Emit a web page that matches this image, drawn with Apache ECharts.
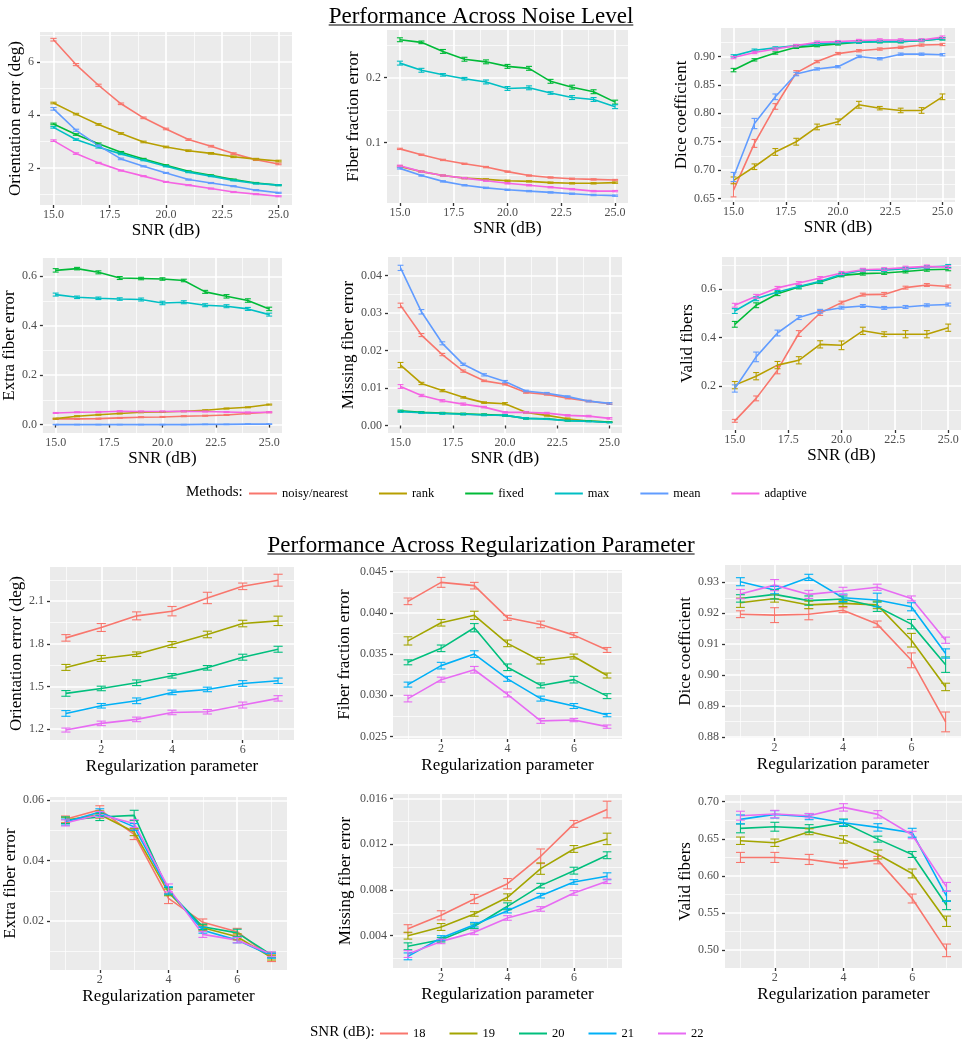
<!DOCTYPE html>
<html><head><meta charset="utf-8">
<script src="https://cdn.jsdelivr.net/npm/echarts@6/dist/echarts.min.js"></script>
<style>html,body{margin:0;padding:0;background:#fff}#c{width:962px;height:1050px}</style>
</head><body><div id="c"></div>
<script>
const FONT = "'Liberation Serif', 'DejaVu Serif', serif";

// ---------- categories ----------
const snrValues = [15,16,17,18,19,20,21,22,23,24,25];
const regValues = [1,2,3,4,5,6,7];
const methods = ['noisy/nearest','rank','fixed','max','mean','adaptive'];
const snrLevels = ['18','19','20','21','22'];
const methodColors = ['#F8766D','#B79F00','#00BA38','#00BFC4','#619CFF','#F564E3'];
const snrColors = ['#F8766D','#A3A500','#00BF7D','#00B0F6','#E76BF3'];

// ---------- Performance across noise level (rows: noisy, rank, fixed, max, mean, adaptive) ----------
const orientNoise = [
  [6.84,5.90,5.12,4.42,3.89,3.47,3.07,2.82,2.54,2.31,2.15],
  [4.45,4.03,3.64,3.30,2.98,2.79,2.65,2.55,2.42,2.33,2.26],
  [3.66,3.26,2.91,2.59,2.34,2.10,1.87,1.72,1.56,1.43,1.35],
  [3.53,3.07,2.78,2.53,2.29,2.06,1.84,1.69,1.53,1.41,1.35],
  [4.23,3.42,2.84,2.34,2.06,1.81,1.56,1.43,1.31,1.16,1.06],
  [3.03,2.54,2.19,1.90,1.69,1.47,1.35,1.22,1.09,1.01,0.93]
];
const orientNoiseErr = [
  [0.05,0.04,0.04,0.03,0.03,0.03,0.03,0.03,0.03,0.03,0.03],
  [0.03,0.03,0.03,0.03,0.03,0.03,0.03,0.03,0.03,0.03,0.03],
  [0.03,0.03,0.03,0.03,0.02,0.02,0.02,0.02,0.02,0.02,0.02],
  [0.03,0.03,0.03,0.03,0.02,0.02,0.02,0.02,0.02,0.02,0.02],
  [0.05,0.04,0.03,0.03,0.02,0.02,0.02,0.02,0.02,0.02,0.02],
  [0.03,0.03,0.02,0.02,0.02,0.02,0.02,0.02,0.02,0.02,0.02]
];
const fracNoise = [
  [0.090,0.081,0.073,0.067,0.062,0.055,0.049,0.046,0.044,0.043,0.042],
  [0.063,0.055,0.049,0.045,0.043,0.041,0.040,0.038,0.037,0.037,0.038],
  [0.258,0.254,0.240,0.228,0.224,0.217,0.214,0.194,0.185,0.178,0.162],
  [0.222,0.211,0.204,0.198,0.193,0.183,0.184,0.176,0.169,0.166,0.155],
  [0.060,0.049,0.040,0.034,0.030,0.027,0.025,0.023,0.021,0.019,0.018],
  [0.064,0.055,0.049,0.045,0.041,0.037,0.034,0.031,0.028,0.025,0.025]
];
const fracNoiseErr = [
  [0.001,0.001,0.001,0.001,0.001,0.001,0.001,0.001,0.001,0.001,0.001],
  [0.001,0.001,0.001,0.001,0.001,0.001,0.001,0.001,0.001,0.001,0.001],
  [0.003,0.002,0.003,0.003,0.003,0.003,0.003,0.003,0.003,0.003,0.003],
  [0.003,0.003,0.002,0.002,0.003,0.003,0.003,0.002,0.003,0.003,0.003],
  [0.001,0.001,0.001,0.001,0.001,0.001,0.001,0.001,0.001,0.001,0.001],
  [0.001,0.001,0.001,0.001,0.001,0.001,0.001,0.001,0.001,0.001,0.001]
];
const diceNoise = [
  [0.665,0.747,0.812,0.871,0.891,0.905,0.910,0.913,0.916,0.920,0.921],
  [0.682,0.706,0.732,0.750,0.776,0.785,0.815,0.809,0.805,0.805,0.829],
  [0.876,0.894,0.906,0.916,0.919,0.922,0.925,0.926,0.926,0.928,0.931],
  [0.901,0.911,0.915,0.919,0.922,0.924,0.925,0.926,0.926,0.928,0.931],
  [0.688,0.782,0.829,0.869,0.878,0.882,0.900,0.896,0.904,0.904,0.903],
  [0.898,0.907,0.913,0.919,0.925,0.926,0.928,0.929,0.929,0.929,0.934]
];
const diceNoiseErr = [
  [0.012,0.007,0.005,0.004,0.002,0.002,0.002,0.002,0.002,0.002,0.002],
  [0.006,0.005,0.006,0.006,0.005,0.005,0.006,0.003,0.004,0.005,0.005],
  [0.003,0.002,0.002,0.002,0.002,0.002,0.002,0.002,0.002,0.002,0.002],
  [0.002,0.002,0.002,0.002,0.002,0.002,0.002,0.002,0.002,0.002,0.002],
  [0.008,0.009,0.005,0.003,0.002,0.002,0.002,0.002,0.002,0.002,0.002],
  [0.002,0.002,0.002,0.002,0.002,0.002,0.002,0.002,0.002,0.002,0.002]
];
const extraNoise = [
  [0.023,0.023,0.024,0.027,0.030,0.031,0.034,0.036,0.039,0.045,0.050],
  [0.024,0.034,0.040,0.045,0.050,0.051,0.054,0.058,0.065,0.070,0.081],
  [0.624,0.631,0.616,0.593,0.591,0.589,0.583,0.537,0.519,0.502,0.468],
  [0.526,0.515,0.511,0.508,0.506,0.492,0.495,0.483,0.479,0.468,0.445],
  [0.000,0.000,0.000,0.000,0.000,0.000,0.000,0.001,0.001,0.002,0.002],
  [0.047,0.050,0.051,0.054,0.053,0.053,0.054,0.053,0.051,0.049,0.050]
];
const extraNoiseErr = [
  [0.002,0.002,0.002,0.002,0.002,0.002,0.002,0.002,0.002,0.002,0.002],
  [0.002,0.002,0.002,0.002,0.002,0.002,0.002,0.002,0.002,0.002,0.002],
  [0.007,0.005,0.006,0.006,0.005,0.005,0.005,0.006,0.007,0.007,0.007],
  [0.006,0.005,0.005,0.005,0.006,0.007,0.006,0.006,0.006,0.006,0.006],
  [0.001,0.001,0.001,0.001,0.001,0.001,0.001,0.001,0.001,0.001,0.001],
  [0.002,0.002,0.002,0.002,0.002,0.002,0.002,0.002,0.002,0.002,0.002]
];
const missingNoise = [
  [0.0320,0.0241,0.0189,0.0145,0.0119,0.0110,0.0088,0.0083,0.0073,0.0065,0.0058],
  [0.0161,0.0112,0.0093,0.0075,0.0061,0.0058,0.0035,0.0027,0.0018,0.0012,0.0009],
  [0.0039,0.0035,0.0033,0.0031,0.0029,0.0027,0.0019,0.0018,0.0013,0.0012,0.0009],
  [0.0037,0.0034,0.0032,0.0030,0.0028,0.0027,0.0019,0.0017,0.0013,0.0011,0.0008],
  [0.0420,0.0303,0.0219,0.0163,0.0135,0.0117,0.0092,0.0086,0.0077,0.0065,0.0059],
  [0.0104,0.0080,0.0066,0.0057,0.0049,0.0035,0.0035,0.0033,0.0027,0.0025,0.0019]
];
const missingNoiseErr = [
  [0.0006,0.0004,0.0003,0.0003,0.0002,0.0002,0.0002,0.0002,0.0002,0.0002,0.0002],
  [0.0007,0.0003,0.0003,0.0002,0.0002,0.0003,0.0002,0.0002,0.0002,0.0001,0.0001],
  [0.0002,0.0002,0.0002,0.0002,0.0002,0.0002,0.0002,0.0001,0.0001,0.0001,0.0001],
  [0.0002,0.0002,0.0002,0.0002,0.0002,0.0002,0.0002,0.0001,0.0001,0.0001,0.0001],
  [0.0007,0.0006,0.0004,0.0003,0.0003,0.0003,0.0002,0.0002,0.0002,0.0002,0.0002],
  [0.0005,0.0003,0.0003,0.0003,0.0002,0.0002,0.0002,0.0002,0.0002,0.0002,0.0002]
];
const validNoise = [
  [0.055,0.148,0.265,0.417,0.502,0.545,0.578,0.579,0.607,0.618,0.612],
  [0.203,0.240,0.286,0.306,0.372,0.368,0.428,0.414,0.414,0.414,0.441],
  [0.455,0.534,0.582,0.610,0.630,0.658,0.665,0.668,0.674,0.681,0.683],
  [0.510,0.561,0.589,0.612,0.633,0.662,0.679,0.679,0.686,0.692,0.697],
  [0.189,0.320,0.419,0.483,0.509,0.524,0.531,0.523,0.527,0.534,0.537],
  [0.534,0.571,0.606,0.626,0.647,0.668,0.681,0.684,0.690,0.695,0.692]
];
const validNoiseErr = [
  [0.006,0.010,0.015,0.012,0.010,0.006,0.006,0.008,0.006,0.006,0.006],
  [0.015,0.015,0.015,0.015,0.015,0.018,0.015,0.010,0.015,0.015,0.015],
  [0.012,0.010,0.008,0.008,0.006,0.006,0.006,0.006,0.006,0.006,0.006],
  [0.010,0.008,0.006,0.006,0.006,0.006,0.006,0.006,0.006,0.006,0.006],
  [0.015,0.020,0.012,0.008,0.008,0.006,0.006,0.006,0.006,0.006,0.006],
  [0.008,0.008,0.006,0.006,0.006,0.006,0.006,0.006,0.006,0.006,0.006]
];

// ---------- Performance across regularization parameter (rows: SNR 18..22) ----------
const orientReg = [
  [1.842,1.915,1.997,2.030,2.123,2.205,2.248],
  [1.634,1.697,1.727,1.795,1.866,1.943,1.962],
  [1.451,1.486,1.526,1.575,1.631,1.706,1.762],
  [1.310,1.364,1.399,1.458,1.479,1.521,1.540],
  [1.193,1.240,1.268,1.317,1.322,1.369,1.416]
];
const orientRegErr = [
  [0.023,0.028,0.028,0.033,0.040,0.023,0.042],
  [0.021,0.021,0.016,0.021,0.023,0.023,0.033],
  [0.020,0.016,0.020,0.016,0.016,0.021,0.021],
  [0.020,0.016,0.020,0.016,0.016,0.020,0.019],
  [0.014,0.016,0.016,0.016,0.016,0.021,0.019]
];
const fracReg = [
  [0.0414,0.0437,0.0433,0.0394,0.0386,0.0373,0.0355],
  [0.0366,0.0388,0.0397,0.0363,0.0342,0.0347,0.0324],
  [0.0340,0.0357,0.0382,0.0334,0.0312,0.0319,0.0299],
  [0.0313,0.0336,0.0350,0.0320,0.0296,0.0287,0.0276],
  [0.0296,0.0319,0.0331,0.0301,0.0269,0.0270,0.0262]
];
const fracRegErr = [
  [0.0004,0.0006,0.0004,0.0003,0.0004,0.0003,0.0003],
  [0.0005,0.0004,0.0005,0.0004,0.0004,0.0003,0.0003],
  [0.0003,0.0004,0.0005,0.0004,0.0003,0.0004,0.0003],
  [0.0003,0.0004,0.0004,0.0003,0.0003,0.0003,0.0002],
  [0.0004,0.0003,0.0004,0.0003,0.0003,0.0002,0.0002]
];
const diceReg = [
  [0.9197,0.9194,0.9197,0.9210,0.9165,0.9048,0.8849],
  [0.9234,0.9248,0.9227,0.9232,0.9227,0.9113,0.8962],
  [0.9248,0.9261,0.9241,0.9246,0.9221,0.9165,0.9034],
  [0.9302,0.9275,0.9316,0.9250,0.9243,0.9221,0.9070],
  [0.9262,0.9291,0.9261,0.9272,0.9284,0.9248,0.9113]
];
const diceRegErr = [
  [0.0011,0.0024,0.0018,0.0008,0.0010,0.0024,0.0032],
  [0.0015,0.0012,0.0012,0.0010,0.0012,0.0022,0.0012],
  [0.0012,0.0015,0.0015,0.0010,0.0015,0.0015,0.0025],
  [0.0013,0.0012,0.0010,0.0012,0.0022,0.0013,0.0015],
  [0.0015,0.0018,0.0013,0.0012,0.0010,0.0008,0.0010]
];
const extraReg = [
  [0.0537,0.0569,0.0487,0.0275,0.0196,0.0165,0.0077],
  [0.0534,0.0553,0.0495,0.0295,0.0178,0.0148,0.0079],
  [0.0534,0.0545,0.0550,0.0299,0.0181,0.0161,0.0088],
  [0.0528,0.0561,0.0512,0.0302,0.0170,0.0137,0.0085],
  [0.0525,0.0553,0.0523,0.0310,0.0156,0.0137,0.0090]
];
const extraRegErr = [
  [0.0011,0.0013,0.0017,0.0017,0.0011,0.0011,0.0011],
  [0.0010,0.0012,0.0012,0.0011,0.0010,0.0010,0.0008],
  [0.0011,0.0012,0.0017,0.0012,0.0009,0.0012,0.0009],
  [0.0010,0.0011,0.0011,0.0012,0.0010,0.0009,0.0008],
  [0.0010,0.0010,0.0013,0.0013,0.0010,0.0009,0.0008]
];
const missingReg = [
  [0.00461,0.00578,0.00721,0.00855,0.01095,0.01378,0.01504],
  [0.00400,0.00476,0.00590,0.00736,0.00987,0.01159,0.01247],
  [0.00307,0.00365,0.00482,0.00657,0.00838,0.00969,0.01104],
  [0.00219,0.00380,0.00496,0.00619,0.00750,0.00870,0.00920],
  [0.00239,0.00350,0.00429,0.00555,0.00634,0.00774,0.00876]
];
const missingRegErr = [
  [0.00035,0.00040,0.00040,0.00045,0.00064,0.00030,0.00073],
  [0.00030,0.00030,0.00020,0.00030,0.00050,0.00030,0.00050],
  [0.00030,0.00020,0.00020,0.00030,0.00020,0.00030,0.00030],
  [0.00030,0.00020,0.00020,0.00020,0.00020,0.00020,0.00030],
  [0.00030,0.00020,0.00020,0.00020,0.00020,0.00020,0.00020]
];
const validReg = [
  [0.6248,0.6248,0.6221,0.6158,0.6212,0.5694,0.4995],
  [0.6473,0.6446,0.6595,0.6491,0.6288,0.6032,0.5387],
  [0.6640,0.6662,0.6640,0.6716,0.6495,0.6288,0.5604],
  [0.6761,0.6829,0.6797,0.6716,0.6653,0.6581,0.5725],
  [0.6811,0.6833,0.6811,0.6923,0.6829,0.6550,0.5851]
];
const validRegErr = [
  [0.0068,0.0068,0.0068,0.0050,0.0050,0.0060,0.0085],
  [0.0050,0.0050,0.0040,0.0050,0.0060,0.0060,0.0070],
  [0.0060,0.0060,0.0050,0.0050,0.0040,0.0040,0.0060],
  [0.0060,0.0050,0.0040,0.0040,0.0050,0.0060,0.0070],
  [0.0060,0.0050,0.0030,0.0050,0.0050,0.0050,0.0060]
];

// ---------- tick values ----------
const snrTicks = [15,17.5,20,22.5,25], snrMinor = [16.25,18.75,21.25,23.75];
const regTicks = [2,4,6], regMinor = [1,3,5,7];

// ---------- panel layout ----------
const panels = [
  {kind:'noise', yName:'Orientation error (deg)', vals:orientNoise, errs:orientNoiseErr, yMin:0.6, yMax:7.13, yMajor:[2,4,6], yMinor:[1,3,5,7], dec:0, box:[40,32,252,173], yGap:14},
  {kind:'noise', yName:'Fiber fraction error', vals:fracNoise, errs:fracNoiseErr, yMin:0.0067, yMax:0.273, yMajor:[0.1,0.2], yMinor:[0.05,0.15,0.25], dec:1, box:[387,30,241,173], yGap:24},
  {kind:'noise', yName:'Dice coefficient', vals:diceNoise, errs:diceNoiseErr, yMin:0.644, yMax:0.95, yMajor:[0.65,0.7,0.75,0.8,0.85,0.9], yMinor:[0.675,0.725,0.775,0.825,0.875,0.925], dec:2, box:[721,28,234,174], yGap:31},
  {kind:'noise', yName:'Extra fiber error', vals:extraNoise, errs:extraNoiseErr, yMin:-0.034, yMax:0.674, yMajor:[0,0.2,0.4,0.6], yMinor:[0.1,0.3,0.5], dec:1, box:[40,258,242,175], yGap:23},
  {kind:'noise', yName:'Missing fiber error', vals:missingNoise, errs:missingNoiseErr, yMin:-0.002, yMax:0.0449, yMajor:[0,0.01,0.02,0.03,0.04], yMinor:[0.005,0.015,0.025,0.035], dec:2, box:[388,257,234,176], yGap:31},
  {kind:'noise', yName:'Valid fibers', vals:validNoise, errs:validNoiseErr, yMin:0.017, yMax:0.734, yMajor:[0.2,0.4,0.6], yMinor:[0.1,0.3,0.5,0.7], dec:1, box:[722,257,239,173], yGap:26},
  {kind:'reg', yName:'Orientation error (deg)', vals:orientReg, errs:orientRegErr, yMin:1.123, yMax:2.341, yMajor:[1.2,1.5,1.8,2.1], yMinor:[1.35,1.65,1.95,2.25], dec:1, box:[50,567,244,173], yGap:23},
  {kind:'reg', yName:'Fiber fraction error', vals:fracReg, errs:fracRegErr, yMin:0.0247, yMax:0.0452, yMajor:[0.025,0.03,0.035,0.04,0.045], yMinor:[0.0275,0.0325,0.0375,0.0425], dec:3, box:[393,570,229,169], yGap:40},
  {kind:'reg', yName:'Dice coefficient', vals:diceReg, errs:diceRegErr, yMin:0.8797, yMax:0.9356, yMajor:[0.88,0.89,0.9,0.91,0.92,0.93], yMinor:[0.885,0.895,0.905,0.915,0.925], dec:2, box:[725,565,236,173], yGap:30},
  {kind:'reg', yName:'Extra fiber error', vals:extraReg, errs:extraRegErr, yMin:0.0038, yMax:0.0611, yMajor:[0.02,0.04,0.06], yMinor:[0.01,0.03,0.05], dec:2, box:[50,797,237,173], yGap:31},
  {kind:'reg', yName:'Missing fiber error', vals:missingReg, errs:missingRegErr, yMin:0.00117, yMax:0.0164, yMajor:[0.004,0.008,0.012,0.016], yMinor:[0.002,0.006,0.01,0.014], dec:3, box:[393,794,229,174], yGap:39},
  {kind:'reg', yName:'Valid fibers', vals:validReg, errs:validRegErr, yMin:0.4757, yMax:0.709, yMajor:[0.5,0.55,0.6,0.65,0.7], yMinor:[0.525,0.575,0.625,0.675], dec:2, box:[725,795,237,173], yGap:29}
];

const TICK_COLOR = '#4D4D4D';
function mainAxis(gi, min, max, major, fmt, name, gap, isX) {
  return {
    type:'value', gridIndex:gi, min:min, max:max, scale:true,
    axisLine:{show:false},
    axisTick:{show:true, length:3, lineStyle:{color:'#333', width:1.3}, customValues:major},
    axisLabel:{show:true, customValues:major, formatter:fmt, color:TICK_COLOR, fontSize:12, fontFamily:FONT, margin:isX?4:6},
    splitLine:{show:true, lineStyle:{color:'#FFFFFF', width:1.7}},
    minorTick:{show:false}, minorSplitLine:{show:false},
    name:name, nameLocation:'middle', nameGap:gap,
    nameTextStyle:{fontFamily:FONT, fontSize:17, color:'#000'},
    z:1
  };
}
function minorAxis(gi, min, max, minor) {
  return {
    type:'value', gridIndex:gi, min:min, max:max, scale:true,
    axisLine:{show:false},
    axisTick:{show:false, customValues:minor},
    axisLabel:{show:false, customValues:minor},
    splitLine:{show:true, lineStyle:{color:'#FFFFFF', width:0.7}},
    z:0
  };
}

function makeErrRender(capHalf) {
  return function(params, api) {
    const x = api.value(0), lo = api.value(1), hi = api.value(2);
    const pLo = api.coord([x, lo]), pHi = api.coord([x, hi]);
    const l1 = api.coord([x - capHalf, lo]), r1 = api.coord([x + capHalf, lo]);
    const l2 = api.coord([x - capHalf, hi]), r2 = api.coord([x + capHalf, hi]);
    const st = {stroke: api.visual('color'), lineWidth: 1.1};
    return {type:'group', children:[
      {type:'line', shape:{x1:pLo[0], y1:pLo[1], x2:pHi[0], y2:pHi[1]}, style:st},
      {type:'line', shape:{x1:l1[0], y1:l1[1], x2:r1[0], y2:r1[1]}, style:st},
      {type:'line', shape:{x1:l2[0], y1:l2[1], x2:r2[0], y2:r2[1]}, style:st}
    ]};
  };
}

const option = {
  animation:false, backgroundColor:'#FFFFFF',
  grid:[], xAxis:[], yAxis:[], series:[], title:[], legend:[], graphic:[]
};
const lineSeries = [], errSeries = [];

panels.forEach(function(p, i) {
  const noise = p.kind === 'noise';
  const xs = noise ? snrValues : regValues;
  const names = noise ? methods : snrLevels;
  const colors = noise ? methodColors : snrColors;
  const xMin = noise ? 14.4 : 0.55, xMax = noise ? 25.6 : 7.45;
  const [l, t, w, h] = p.box;
  option.grid.push({left:l, top:t, width:w, height:h, show:true, backgroundColor:'#EBEBEB', borderWidth:0});
  const xFmt = noise ? function(v){ return (+v).toFixed(1); } : function(v){ return String(+v); };
  const dec = p.dec;
  const yFmt = function(v){ return (+v).toFixed(dec); };
  option.xAxis.push(mainAxis(i, xMin, xMax, noise ? snrTicks : regTicks, xFmt, noise ? 'SNR (dB)' : 'Regularization parameter', noise ? 16 : 18, true));
  option.xAxis.push(minorAxis(i, xMin, xMax, noise ? snrMinor : regMinor));
  option.yAxis.push(mainAxis(i, p.yMin, p.yMax, p.yMajor, yFmt, p.yName, p.yGap, false));
  option.yAxis.push(minorAxis(i, p.yMin, p.yMax, p.yMinor));
  const capHalf = noise ? 0.14 : 0.13;
  p.vals.forEach(function(row, s) {
    lineSeries.push({
      type:'line', name:names[s], xAxisIndex:2*i, yAxisIndex:2*i,
      data: xs.map(function(x, k){ return [x, row[k]]; }),
      symbol:'none', showSymbol:false, silent:true,
      color: colors[s], lineStyle:{width:1.6, color:colors[s]}, z:3
    });
    errSeries.push({
      type:'custom', name:names[s], xAxisIndex:2*i, yAxisIndex:2*i,
      data: xs.map(function(x, k){ return [x, row[k] - p.errs[s][k], row[k] + p.errs[s][k]]; }),
      encode:{x:0, y:[1,2]}, renderItem: makeErrRender(capHalf),
      color: colors[s], itemStyle:{color:colors[s]}, silent:true, z:4, clip:false
    });
  });
});
option.series = lineSeries.concat(errSeries);

// Titles
const title1 = 'Performance Across Noise Level';
const title2 = 'Performance Across Regularization Parameter';
const TITLE_SIZE = 23;
option.title = [
  {text:title1, left:'center', top:0, textStyle:{fontFamily:FONT, fontSize:TITLE_SIZE, fontWeight:'normal', color:'#000'}},
  {text:title2, left:'center', top:529, textStyle:{fontFamily:FONT, fontSize:TITLE_SIZE, fontWeight:'normal', color:'#000'}},
  {text:'Methods:', left:181, top:480, textStyle:{fontFamily:FONT, fontSize:15, fontWeight:'normal', color:'#000'}},
  {text:'SNR (dB):', left:305, top:1020, textStyle:{fontFamily:FONT, fontSize:15, fontWeight:'normal', color:'#000'}}
];
const ctx = document.createElement('canvas').getContext('2d');
ctx.font = TITLE_SIZE + 'px ' + FONT;
const w1 = ctx.measureText(title1).width, w2 = ctx.measureText(title2).width;
option.graphic = [
  {type:'line', shape:{x1:481 - w1/2, y1:25, x2:481 + w1/2, y2:25}, style:{stroke:'#000', lineWidth:1.2}},
  {type:'line', shape:{x1:481 - w2/2, y1:554, x2:481 + w2/2, y2:554}, style:{stroke:'#000', lineWidth:1.2}}
];

option.legend = [
  {data:methods, left:244, top:482, icon:'rect', itemWidth:28, itemHeight:2, itemGap:31,
   textStyle:{fontFamily:FONT, fontSize:12.5, color:'#000'}, selectedMode:false},
  {data:snrLevels, left:375, top:1022, icon:'rect', itemWidth:28, itemHeight:2, itemGap:24,
   textStyle:{fontFamily:FONT, fontSize:12.5, color:'#000'}, selectedMode:false}
];

const chart = echarts.init(document.getElementById('c'), null, {renderer:'canvas'});
chart.setOption(option);
</script>
</body></html>
